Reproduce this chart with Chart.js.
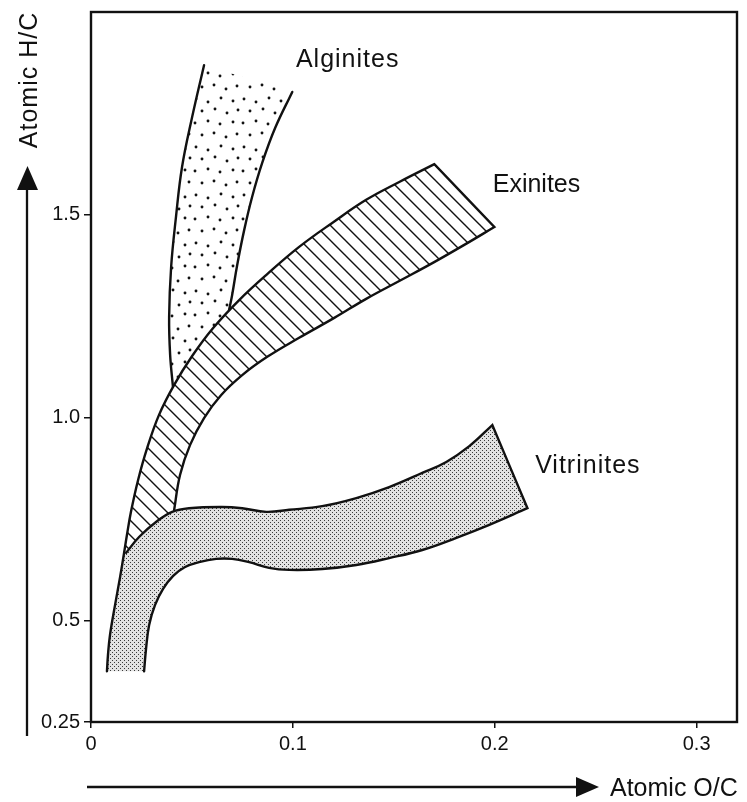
<!DOCTYPE html>
<html>
<head>
<meta charset="utf-8">
<script src="https://cdn.jsdelivr.net/npm/chart.js@4/dist/chart.umd.min.js"></script>
<style>
html, body { margin: 0; padding: 0; background: #fff; }
canvas { display: block; }
</style>
</head>
<body>
<canvas id="c" width="747" height="802"></canvas>
<script>
// Outlines of the maceral bands, as [atomic O/C, atomic H/C] pairs.
const alginiteLeft = [[0.0560,1.869],[0.0501,1.741],[0.0451,1.618],[0.0421,1.495],[0.0397,1.372],[0.0387,1.248],[0.0392,1.155],[0.0406,1.076]];
const alginiteRight = [[0.0997,1.803],[0.0912,1.714],[0.0848,1.628],[0.0798,1.544],[0.0759,1.463],[0.0724,1.376],[0.0699,1.302],[0.0684,1.266]];

const exiniteUpper = [[0.1701,1.625],[0.1527,1.581],[0.1363,1.537],[0.1200,1.482],[0.1031,1.421],[0.0873,1.354],[0.0734,1.290],[0.0605,1.221],[0.0501,1.152],[0.0412,1.081],[0.0337,1.007],[0.0278,0.925],[0.0233,0.846],[0.0198,0.768],[0.0178,0.711],[0.0164,0.667]];
const exiniteLower = [[0.0412,0.773],[0.0441,0.859],[0.0491,0.933],[0.0560,0.999],[0.0645,1.056],[0.0749,1.105],[0.0873,1.150],[0.1031,1.197],[0.1205,1.246],[0.1363,1.293],[0.1527,1.337],[0.1691,1.381],[0.1849,1.426],[0.1998,1.470]];

const vitriniteLeft = [[0.0164,0.667],[0.0144,0.607],[0.0119,0.538],[0.0094,0.464],[0.0084,0.415],[0.0079,0.375]];
const vitriniteUpper = [[0.0174,0.667],[0.0238,0.706],[0.0322,0.743],[0.0402,0.768],[0.0486,0.777],[0.0649,0.780],[0.0749,0.777],[0.0868,0.768],[0.0982,0.773],[0.1145,0.782],[0.1314,0.802],[0.1477,0.829],[0.1641,0.864],[0.1760,0.891],[0.1874,0.930],[0.1988,0.982]];
const vitriniteLower = [[0.2162,0.777],[0.1973,0.736],[0.1810,0.704],[0.1641,0.674],[0.1477,0.654],[0.1314,0.637],[0.1145,0.627],[0.0982,0.625],[0.0882,0.630],[0.0783,0.644],[0.0699,0.652],[0.0620,0.652],[0.0535,0.644],[0.0466,0.632],[0.0407,0.610],[0.0357,0.578],[0.0317,0.538],[0.0288,0.489],[0.0273,0.432],[0.0263,0.375]];

const xTicks = [0, 0.1, 0.2, 0.3];
const xTickLabels = ['0', '0.1', '0.2', '0.3'];
const yTicks = [0.25, 0.5, 1.0, 1.5];
const yTickLabels = ['0.25', '0.5', '1.0', '1.5'];

const bandNames = ['Alginites', 'Exinites', 'Vitrinites'];
// where each band name is written (left end of its baseline, in axis units)
const bandNameAt = [[0.1015, 1.864], [0.199, 1.556], [0.220, 0.864]];
const bandNameSpacing = ['1px', '0px', '1px'];

const INK = '#111';

// ---- helpers -------------------------------------------------------------
const toPoints = arr => arr.map(([x, y]) => ({ x, y }));
const reversed = arr => arr.slice().reverse();
// Chains curves end to end; each joint vertex is repeated so the bezier
// smoothing keeps a sharp corner and a straight connecting edge.
function sharpJoin(...curves) {
  const out = [];
  curves.forEach(c => {
    if (out.length) { out.push(out[out.length - 1]); out.push(c[0]); }
    out.push(...c);
  });
  return out;
}

// ---- fill patterns ---------------------------------------------------------
function tile(w, h, paint) {
  const c = document.createElement('canvas');
  c.width = w; c.height = h;
  const g = c.getContext('2d');
  paint(g);
  return g.createPattern(c, 'repeat');
}
const dotFill = tile(48, 48, g => {
  g.fillStyle = '#fff'; g.fillRect(0, 0, 48, 48);
  g.fillStyle = INK;
  [[4,3],[16,6],[29,2],[41,5],[10,15],[23,13],[35,17],[46,14],[3,27],[16,25],[28,28],[41,26],[10,39],[22,37],[34,41],[45,38]]
    .forEach(([x, y]) => { g.beginPath(); g.arc(x, y, 1.45, 0, Math.PI * 2); g.fill(); });
});
const hatchFill = tile(15, 15, g => {
  g.fillStyle = '#fff'; g.fillRect(0, 0, 15, 15);
  g.strokeStyle = INK; g.lineWidth = 1.4;
  g.beginPath();
  [-1, 0, 1].forEach(k => { g.moveTo(k * 15 - 2, -2); g.lineTo(k * 15 + 17, 17); });
  g.stroke();
});
const stippleFill = tile(4, 4, g => {
  g.fillStyle = '#e2e2e2'; g.fillRect(0, 0, 4, 4);
  g.fillStyle = '#3a3a3a';
  g.fillRect(0, 0, 1, 1);
  g.fillRect(2, 2, 1, 1);
});

// ---- datasets --------------------------------------------------------------
const TENSION = 0.4;
function area(label, pts, pattern, order) {
  return { label, data: toPoints(pts), showLine: true, fill: 'shape', backgroundColor: pattern,
           borderWidth: 0, pointRadius: 0, tension: TENSION, order };
}
function outline(label, pts) {
  return { label, data: toPoints(pts), showLine: true, fill: false, borderColor: INK,
           borderWidth: 2.4, borderJoinStyle: 'miter', borderCapStyle: 'round',
           pointRadius: 0, tension: TENSION, order: 0 };
}

const datasets = [
  area(bandNames[0], sharpJoin(alginiteLeft, reversed(alginiteRight)), dotFill, 30),
  area(bandNames[1], sharpJoin(exiniteUpper, exiniteLower), hatchFill, 20),
  area(bandNames[2], sharpJoin(reversed(vitriniteLeft), vitriniteUpper, vitriniteLower), stippleFill, 10),
  outline('alginite left', alginiteLeft),
  outline('alginite right', alginiteRight),
  outline('exinite edge', sharpJoin(exiniteLower, exiniteUpper.concat(vitriniteLeft.slice(1)))),
  outline('vitrinite edge', sharpJoin(vitriniteUpper, vitriniteLower))
];

// ---- frame, arrows and names ----------------------------------------------
const decor = {
  id: 'decor',
  afterDraw(chart) {
    const { ctx, chartArea: a, scales: { x, y } } = chart;
    ctx.save();
    ctx.strokeStyle = INK; ctx.fillStyle = INK;
    ctx.lineWidth = 2.4;
    ctx.strokeRect(a.left, a.top, a.right - a.left, a.bottom - a.top);

    // vertical arrow (H/C)
    ctx.lineWidth = 2.3;
    ctx.beginPath(); ctx.moveTo(27, 736); ctx.lineTo(27, 186); ctx.stroke();
    ctx.beginPath(); ctx.moveTo(27.5, 166); ctx.lineTo(38, 190); ctx.lineTo(17, 190); ctx.closePath(); ctx.fill();
    // horizontal arrow (O/C)
    ctx.beginPath(); ctx.moveTo(87, 787); ctx.lineTo(580, 787); ctx.stroke();
    ctx.beginPath(); ctx.moveTo(599, 787); ctx.lineTo(576, 777); ctx.lineTo(576, 797); ctx.closePath(); ctx.fill();

    ctx.font = '25px "Liberation Sans"';
    ctx.textBaseline = 'alphabetic';
    ctx.textAlign = 'left';
    ctx.letterSpacing = '0px';
    ctx.fillText('Atomic O/C', 610, 796);
    ctx.save();
    ctx.letterSpacing = '1px';
    ctx.translate(36.5, 80);
    ctx.rotate(-Math.PI / 2);
    ctx.textAlign = 'center';
    ctx.fillText('Atomic H/C', 0, 0);
    ctx.restore();

    bandNames.forEach((name, i) => {
      const [vx, vy] = bandNameAt[i];
      ctx.letterSpacing = bandNameSpacing[i];
      ctx.fillText(name, x.getPixelForValue(vx), y.getPixelForValue(vy));
    });
    ctx.restore();
  }
};

const tickFont = { family: 'Liberation Sans', size: 20 };

new Chart(document.getElementById('c'), {
  type: 'scatter',
  data: { datasets },
  options: {
    responsive: false,
    animation: false,
    devicePixelRatio: 1,
    layout: { padding: { left: 0, right: 10, top: 12, bottom: 50 } },
    plugins: { legend: { display: false }, tooltip: { enabled: false } },
    scales: {
      x: {
        type: 'linear', min: 0, max: 0.32,
        afterBuildTicks: s => { s.ticks = xTicks.map(v => ({ value: v })); },
        afterFit: s => { s.height = 30; s.paddingLeft = 0; s.paddingRight = 0; },
        ticks: { callback: (v, i) => xTickLabels[i], color: INK, font: tickFont, padding: 4, maxRotation: 0, autoSkip: false },
        grid: { display: true, drawOnChartArea: false, drawTicks: true, tickLength: 6, color: INK, lineWidth: 1.5 },
        border: { display: false }
      },
      y: {
        type: 'linear', min: 0.25, max: 2.0,
        afterBuildTicks: s => { s.ticks = yTicks.map(v => ({ value: v })); },
        afterFit: s => { s.width = 91; s.paddingTop = 0; s.paddingBottom = 0; },
        ticks: { callback: (v, i) => yTickLabels[i], color: INK, font: tickFont, padding: 4, autoSkip: false },
        grid: { display: true, drawOnChartArea: false, drawTicks: true, tickLength: 7, color: INK, lineWidth: 1.5 },
        border: { display: false }
      }
    }
  },
  plugins: [decor]
});
</script>
</body>
</html>
